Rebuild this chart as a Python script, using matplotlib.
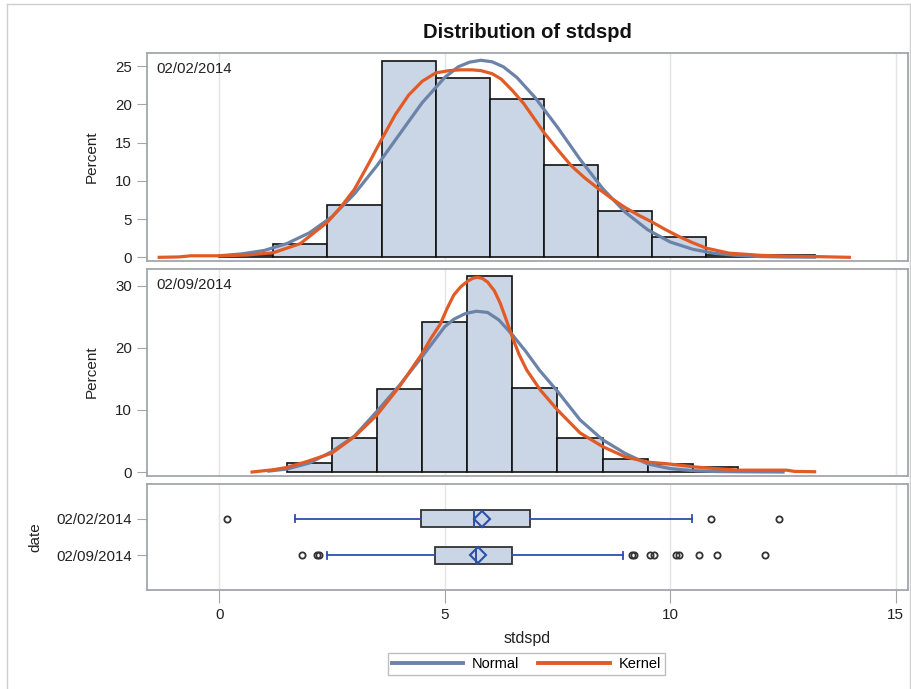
import matplotlib
matplotlib.use('Agg')
import matplotlib.pyplot as plt
from matplotlib.lines import Line2D

plt.rcParams['font.family'] = ['Liberation Sans', 'DejaVu Sans']

# ---------------- data ----------------
title = "Distribution of stdspd"
dates = ["02/02/2014", "02/09/2014"]

# histogram 02/02/2014 (bin width 1.2)
edges1 = [0.0, 1.2, 2.4, 3.6, 4.8, 6.0, 7.2, 8.4, 9.6, 10.8, 12.0, 13.2]
pct1 = [0.35, 1.7, 6.8, 25.7, 23.4, 20.7, 12.0, 6.0, 2.6, 0.35, 0.35]

# histogram 02/09/2014 (bin width 1.0)
edges2 = [1.5, 2.5, 3.5, 4.5, 5.5, 6.5, 7.5, 8.5, 9.5, 10.5, 11.5]
pct2 = [1.4, 5.5, 13.4, 24.2, 31.6, 13.6, 5.5, 2.1, 1.3, 0.75]

# normal curve 02/02/2014
nx1 = [0.0, 0.5, 1.0, 1.5, 2.0, 2.5, 3.0, 3.5, 4.0, 4.5, 5.0, 5.3, 5.55, 5.8, 6.05, 6.3, 6.6,
       7.0, 7.5, 8.0, 8.5, 9.0, 9.5, 10.0, 10.5, 11.0, 11.5, 12.0, 12.6, 13.2]
ny1 = [0.2, 0.45, 0.9, 1.8, 3.2, 5.3, 8.3, 12.0, 16.1, 20.2, 23.5, 24.9, 25.5, 25.75, 25.55, 24.9, 23.5,
       20.9, 17.0, 12.8, 9.0, 5.9, 3.6, 2.0, 1.05, 0.5, 0.25, 0.1, 0.04, 0.02]

# kernel curve 02/02/2014
kx1 = [-1.33, -0.9, -0.63, 0.0, 0.6, 1.2, 1.8, 2.4, 2.7, 3.0, 3.3, 3.6, 3.9, 4.2, 4.5, 4.8,
       5.1, 5.35, 5.6, 5.8, 6.05, 6.25, 6.5, 6.75, 7.0, 7.2, 7.5, 7.8, 8.1, 8.4, 8.7, 9.0,
       9.3, 9.6, 9.9, 10.2, 10.5, 10.8, 11.3, 12.0, 12.6, 13.2, 13.97]
ky1 = [0.0, 0.05, 0.2, 0.2, 0.3, 0.6, 1.8, 4.6, 6.6, 8.9, 12.1, 15.4, 18.6, 21.2, 23.0, 24.1,
       24.4, 24.5, 24.5, 24.4, 24.0, 23.3, 21.8, 20.1, 18.0, 16.3, 14.1, 12.0, 10.4, 9.0, 7.7, 6.5,
       5.5, 4.6, 3.6, 2.7, 1.9, 1.2, 0.55, 0.26, 0.15, 0.1, 0.0]

# normal curve 02/09/2014
nx2 = [1.1, 1.5, 2.0, 2.5, 3.0, 3.5, 4.0, 4.5, 5.0, 5.2, 5.45, 5.7, 5.95, 6.2, 6.5, 6.8,
       7.1, 7.5, 8.0, 8.5, 9.0, 9.5, 10.0, 10.5, 11.0, 11.5, 12.5]
ny2 = [0.15, 0.48, 1.45, 3.3, 5.8, 9.8, 14.0, 18.6, 23.4, 24.6, 25.5, 25.9, 25.7, 24.5, 22.1, 19.4,
       16.4, 13.0, 8.4, 5.2, 3.0, 1.3, 0.55, 0.22, 0.08, 0.04, 0.0]

# kernel curve 02/09/2014
kx2 = [0.73, 1.2, 1.5, 1.95, 2.5, 3.0, 3.5, 4.0, 4.5, 4.7, 4.9, 5.05, 5.2, 5.35, 5.5, 5.62, 5.72,
       5.83, 5.95, 6.1, 6.23, 6.37, 6.5, 6.65, 6.82, 7.12, 7.5, 8.0, 8.5, 9.0, 9.5, 10.0, 10.5, 11.0,
       11.5, 12.0, 12.58, 12.75, 13.2]
ky2 = [0.0, 0.37, 0.74, 1.7, 3.05, 5.7, 9.2, 13.8, 19.1, 21.6, 23.8, 26.3, 28.5, 29.8, 30.7, 31.2,
       31.35, 31.2, 30.6, 29.2, 27.2, 24.4, 21.7, 18.9, 16.4, 13.2, 10.0, 6.3, 4.1, 2.45, 1.6, 1.28,
       0.85, 0.55, 0.3, 0.3, 0.3, 0.1, 0.05]

# box plot statistics
box_q1 = [4.48, 4.79]
box_med = [5.66, 5.69]
box_q3 = [6.90, 6.49]
box_mean = [5.82, 5.73]
box_whislo = [1.69, 2.38]
box_whishi = [10.48, 8.96]
box_fliers = [[0.18, 10.9, 12.42],
              [1.84, 2.16, 2.21, 9.15, 9.19, 9.55, 9.63, 10.12, 10.2, 10.64, 11.03, 12.1]]

# ---------------- style ----------------
W, H = 912, 689
BAR = '#CAD5E5'
NORMAL = '#6B83A8'
KERNEL = '#E15B27'
BOXBLUE = '#2B50A8'
SPINE = '#A2A6AA'
GRID = '#E4E4E4'

fig = plt.figure(figsize=(W / 100, H / 100), dpi=100)


def rect(l, t, r, b):
    return [l / W, 1 - b / H, (r - l) / W, (b - t) / H]


ax1 = fig.add_axes(rect(147, 53, 908, 261))
ax2 = fig.add_axes(rect(147, 269, 908, 476))
ax3 = fig.add_axes(rect(147, 484, 908, 590))

XLIM = (-1.6, 15.27)
for ax in (ax1, ax2, ax3):
    ax.set_xlim(*XLIM)
    ax.set_xticks([0, 5, 10, 15])
    ax.grid(axis='x', color=GRID, lw=1.0)
    ax.set_axisbelow(True)
    for s in ax.spines.values():
        s.set_color(SPINE)
        s.set_linewidth(1.3)
    ax.tick_params(axis='y', length=7, color=SPINE, labelsize=10.8, pad=4, labelcolor='#222222')

for ax in (ax1, ax2):
    ax.tick_params(axis='x', length=0, labelbottom=False)


def hist_panel(ax, edges, pct, nx, ny, kx, ky, label):
    lefts = edges[:-1]
    widths = [edges[i + 1] - edges[i] for i in range(len(lefts))]
    ax.bar(lefts, pct, width=widths, align='edge', color=BAR, edgecolor='#111111',
           linewidth=1.2, zorder=2)
    ax.plot(nx, ny, color=NORMAL, lw=2.3, zorder=3, solid_joinstyle='round')
    ax.plot(kx, ky, color=KERNEL, lw=2.3, zorder=4, solid_joinstyle='round')
    ax.text(0.012, 0.923, label, transform=ax.transAxes, ha='left', va='center',
            fontsize=10.8, color='#222222')


hist_panel(ax1, edges1, pct1, nx1, ny1, kx1, ky1, dates[0])
ax1.set_ylim(-0.48, 26.7)
ax1.set_yticks([0, 5, 10, 15, 20, 25])

hist_panel(ax2, edges2, pct2, nx2, ny2, kx2, ky2, dates[1])
ax2.set_ylim(-0.64, 32.7)
ax2.set_yticks([0, 10, 20, 30])

# box plot panel
stats = []
for i in range(2):
    stats.append(dict(med=box_med[i], q1=box_q1[i], q3=box_q3[i], mean=box_mean[i],
                      whislo=box_whislo[i], whishi=box_whishi[i], fliers=box_fliers[i]))
ax3.bxp(stats, positions=[0, 1], orientation='horizontal', widths=0.47, showmeans=True,
        patch_artist=True, capwidths=0.19,
        boxprops=dict(facecolor=BAR, edgecolor='#333333', linewidth=1.3),
        medianprops=dict(color=BOXBLUE, linewidth=1.4),
        whiskerprops=dict(color=BOXBLUE, linewidth=1.3),
        capprops=dict(color=BOXBLUE, linewidth=1.3),
        meanprops=dict(marker='D', markerfacecolor='none', markeredgecolor=BOXBLUE,
                       markersize=8, markeredgewidth=1.5),
        flierprops=dict(marker='o', markerfacecolor='none', markeredgecolor='#333333',
                        markersize=4.5, markeredgewidth=1.3))
ax3.set_ylim(1.95, -0.95)
ax3.set_yticks([0, 1])
ax3.set_yticklabels(dates)
ax3.set_xticks([0, 5, 10, 15])
ax3.set_xticklabels(['0', '5', '10', '15'])
ax3.tick_params(axis='x', length=9, color=SPINE, labelsize=11, pad=4, labelcolor='#222222')

# texts
fig.text(527.5 / W, 1 - 32.5 / H, title, ha='center', va='center', fontsize=14.5,
         fontweight='bold', color='#111111')
fig.text(92 / W, 1 - 157 / H, 'Percent', rotation=90, ha='center', va='center',
         fontsize=11, color='#222222')
fig.text(92 / W, 1 - 372 / H, 'Percent', rotation=90, ha='center', va='center',
         fontsize=11, color='#222222')
fig.text(35 / W, 1 - 537 / H, 'date', rotation=90, ha='center', va='center',
         fontsize=11, color='#222222')
fig.text(527.5 / W, 1 - 639 / H, 'stdspd', ha='center', va='center',
         fontsize=11.5, color='#222222')

handles = [Line2D([], [], color=NORMAL, lw=2.8), Line2D([], [], color=KERNEL, lw=2.8)]
leg = fig.legend(handles, ['Normal', 'Kernel'], loc='center',
                 bbox_to_anchor=(526.5 / W, 1 - 664 / H), ncol=2, frameon=True,
                 fancybox=False, edgecolor='#B0B0B0', fontsize=10.5, handlelength=4.9,
                 handletextpad=0.6, columnspacing=1.3, borderpad=0.3)
leg.get_frame().set_linewidth(1.0)

# outer border
for xs, ys in [([7 / W, 7 / W], [0, 1 - 4 / H]),
               ([7 / W, 910.5 / W], [1 - 4 / H, 1 - 4 / H]),
               ([910.5 / W, 910.5 / W], [0, 1 - 4 / H])]:
    fig.add_artist(Line2D(xs, ys, transform=fig.transFigure, color='#CFCFCF', lw=1.0))

fig.savefig('out.png', dpi=100)
